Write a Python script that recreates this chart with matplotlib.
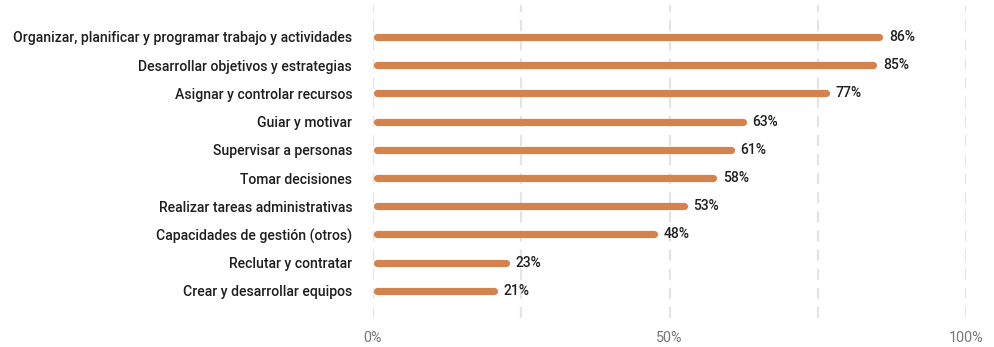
import matplotlib
matplotlib.use("Agg")
import matplotlib.pyplot as plt

categories = [
    "Organizar, planificar y programar trabajo y actividades",
    "Desarrollar objetivos y estrategias",
    "Asignar y controlar recursos",
    "Guiar y motivar",
    "Supervisar a personas",
    "Tomar decisiones",
    "Realizar tareas administrativas",
    "Capacidades de gestión (otros)",
    "Reclutar y contratar",
    "Crear y desarrollar equipos",
]
values = [86, 85, 77, 63, 61, 58, 53, 48, 23, 21]
grid_ticks = [0, 25, 50, 75, 100]
tick_labels = {0: "0%", 50: "50%", 100: "100%"}

plt.rcParams["font.family"] = ["Roboto", "DejaVu Sans"]

fig = plt.figure(figsize=(9.94, 3.47), dpi=100)
ax = fig.add_axes([373 / 994, 1 - 318 / 347, (966 - 373) / 994, (318 - 5) / 347])

bar_color = "#D4834F"
lw = 5.2
# half the stroke width in data units, so the rounded caps stay within the value
cap = (lw / 72 * 100 / 2) / ((966 - 373)) * 100

for g in grid_ticks:
    ax.axvline(g, color="#e4e4e4", lw=1.6, ls=(0, (5, 3.6)), zorder=0)

ypos = list(range(len(categories)))
for y, v in zip(ypos, values):
    ax.plot([cap, v - cap], [y, y], color=bar_color, lw=lw,
            solid_capstyle="round", zorder=2)
    ax.text(v + 1.0, y, f"{v}%", va="center", ha="left",
            fontsize=10, color="#1f1f1f", fontweight="medium")

ax.set_xlim(0, 100)
ax.set_ylim(9.96, -1.13)
ax.set_yticks(ypos)
ax.set_yticklabels(categories, fontsize=10.05, color="#1f1f1f", fontweight="medium")
ax.tick_params(axis="y", length=0, pad=15)
ax.set_xticks(list(tick_labels.keys()))
ax.set_xticklabels(list(tick_labels.values()), fontsize=10.3, color="#777777")
ax.tick_params(axis="x", length=0, pad=9)
for s in ax.spines.values():
    s.set_visible(False)

fig.savefig("out.png", dpi=100)
